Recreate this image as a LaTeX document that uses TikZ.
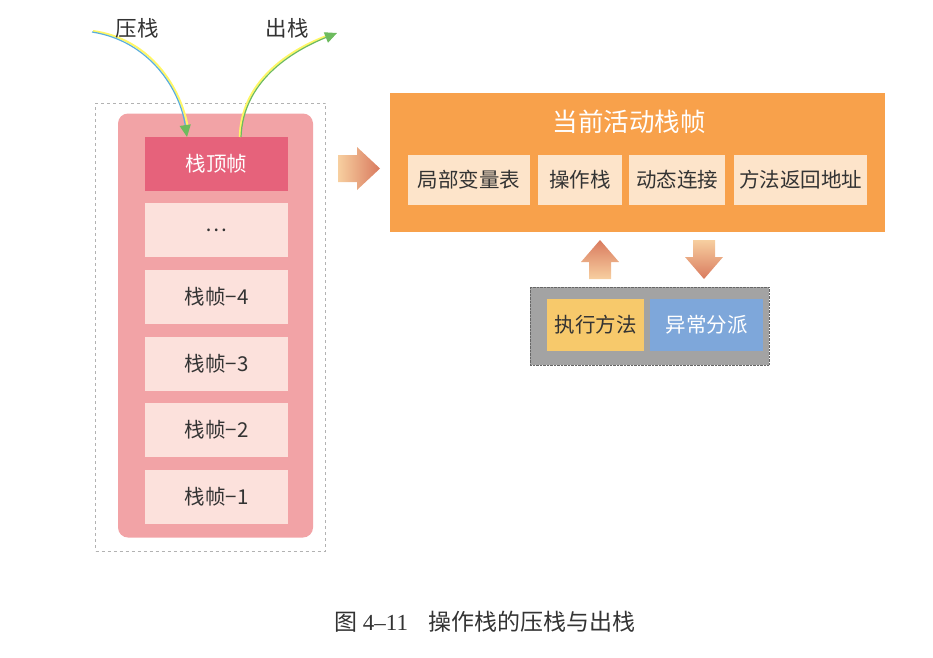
\documentclass[tikz,border=0pt]{standalone}
\usepackage{fontspec}
\setmainfont{Liberation Serif}
\newfontfamily\cjk{Noto Sans CJK SC}
\usetikzlibrary{arrows.meta}
\definecolor{stackbg}{HTML}{F2A3A6}
\definecolor{topred}{HTML}{E6627B}
\definecolor{framefill}{HTML}{FCE1DC}
\definecolor{activeor}{HTML}{F8A14B}
\definecolor{partfill}{HTML}{FDE4CA}
\definecolor{engine}{HTML}{A3A3A3}
\definecolor{execfill}{HTML}{F7C96B}
\definecolor{excfill}{HTML}{7EA7DA}
\definecolor{textgray}{HTML}{333333}
\definecolor{pushblue}{HTML}{5AAEDC}
\definecolor{popgreen}{HTML}{6DBB5E}
\definecolor{fatlight}{HTML}{F7CFA0}
\definecolor{fatdark}{HTML}{D97A5E}
\tikzset{
  lbl/.style={font=\cjk\fontsize{20.5}{24}\selectfont, text=textgray},
  framebox/.style={lbl, fill=framefill, minimum width=143, minimum height=54, inner sep=0},
  partbox/.style={lbl, fill=partfill, minimum height=50, inner sep=0},
  hilite/.style={draw=yellow!60!white, line width=2pt},
}
\begin{document}
\begin{tikzpicture}[x=1pt, y=-1pt]
	\useasboundingbox (0,0) rectangle (933,657);
	% stack of frames
	\node[draw=gray!60, dashed, minimum width=230, minimum height=448, inner sep=0] (stack) at (210.5,327) {};
	\node[fill=stackbg, rounded corners=10pt, minimum width=195, minimum height=424, inner sep=0] (stackbg) at (215.5,325.5) {};
	\node[framebox, fill=topred, text=white] (top) at (216.5,164) {栈顶帧};
	\foreach \n/\y/\t in {dots/230/{…}, f4/297/栈帧−4, f3/363.5/栈帧−3, f2/430/栈帧−2, f1/496.5/栈帧−1}
		\node[framebox] (\n) at (216.5,\y) {\t};
	% push / pop
	\coordinate (pushsrc) at (92,32);
	\coordinate (pushdst) at (187,137);
	\coordinate (popsrc) at (241,137);
	\coordinate (popdst) at (337,33);
	\draw[hilite] ([shift={(1,-1)}]pushsrc) .. controls (151,39) and (181,88) .. ([shift={(1,-9)}]pushdst);
	\draw[pushblue, line width=1.2pt, -{Triangle[length=12pt, width=11pt, popgreen]}]
		(pushsrc) .. controls (150,41) and (180,90) .. (pushdst);
	\draw[hilite] ([shift={(-1.2,0)}]popsrc) .. controls (241,82) and (288,50) .. ([shift={(-8,2)}]popdst);
	\draw[popgreen, line width=1.2pt, -{Triangle[length=12pt, width=11pt]}]
		(popsrc) .. controls (243,82) and (290,52) .. (popdst);
	\node[lbl, font=\cjk\fontsize{21.5}{24}\selectfont] (pushlbl) at (137,28) {压栈};
	\node[lbl, font=\cjk\fontsize{21.5}{24}\selectfont] (poplbl) at (287,28) {出栈};
	% current active frame
	\node[fill=activeor, minimum width=495, minimum height=139, inner sep=0] (active) at (637.5,162.5) {};
	\node[font=\cjk\fontsize{25.5}{30}\selectfont, text=white] (activettl) at (629,122) {当前活动栈帧};
	\node[partbox, minimum width=122] (locals) at (469,180) {局部变量表};
	\node[partbox, minimum width=84] (opstack) at (580,180) {操作栈};
	\node[partbox, minimum width=96] (dynlink) at (677,180) {动态连接};
	\node[partbox, minimum width=133] (retaddr) at (800.5,180) {方法返回地址};
	% fat arrows
	\shade[left color=fatlight, right color=fatdark]
		(338,155) -- (357,155) -- (357,147) -- (380,168.5) -- (357,190) -- (357,182) -- (338,182) -- cycle;
	\shade[bottom color=fatlight, top color=fatdark]
		(589,279) -- (589,262) -- (581,262) -- (600,240) -- (619,262) -- (611,262) -- (611,279) -- cycle;
	\shade[top color=fatlight, bottom color=fatdark]
		(693,240) -- (715,240) -- (715,257) -- (723,257) -- (704,279) -- (685,257) -- (693,257) -- cycle;
	% execution engine
	\node[fill=engine, draw=gray!80!black, densely dotted, minimum width=239, minimum height=78, inner sep=0] (engine) at (649.5,326) {};
	\node[lbl, fill=execfill, minimum width=97, minimum height=52, inner sep=0] (exec) at (595.5,325) {执行方法};
	\node[lbl, fill=excfill, text=white, minimum width=113, minimum height=52, inner sep=0] (except) at (706.5,325) {异常分派};
	% caption
	\node[font=\fontsize{23}{27}\selectfont, text=textgray] (caption) at (485,622) {{\cjk 图} 4–11\hspace{0.9em}{\cjk 操作栈的压栈与出栈}};
\end{tikzpicture}
\end{document}
